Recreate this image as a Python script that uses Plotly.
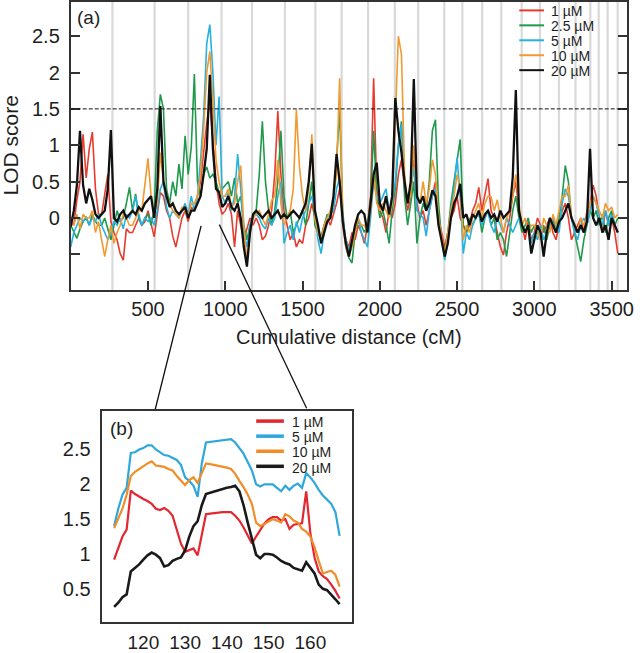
import plotly.graph_objects as go

W, H = 644, 653
FONT = "Liberation Sans, Arial, Helvetica, sans-serif"
TXT = "#1e1e1e"

# ---------------- Panel (a): genome-wide LOD scan ----------------
# LOD scores sampled every 20 cM along the cumulative map (0 ... 3540 cM)
MAP_STEP_CM = 20
lod_1uM = [
    -0.05, -0.1, 0.25, 0.5, 1.15, 0.55, 0.95, 1.18, 0.4, 0.05,
    0.05, 0.35, 0.6, -0.05, -0.2, -0.3, -0.49, -0.58, -0.15, -0.2,
    -0.2, -0.1, 0.0, -0.1, -0.05, 0.1, -0.1, -0.26, 0.05, 0.35,
    0.3, 0.1, 0.0, -0.25, -0.4, -0.2, 0.0, 0.1, -0.05, 0.15,
    0.1, 0.3, 0.5, 0.9, 1.3, 1.6, 1.0, 0.5, 0.2, 0.05,
    0.1, 0.2, 0.05, -0.4, 0.1, -0.1, -0.3, -0.15, 0.0, -0.1,
    0.0, -0.1, -0.3, -0.25, -0.1, 0.1, 0.6, 1.47, 0.6, 0.1,
    -0.1, -0.3, -0.2, -0.4, -0.3, -0.35, -0.1, 0.0, 0.2, 0.0,
    -0.2, -0.3, -0.1, 0.0, -0.1, 0.05, 0.2, 0.4, 0.0, -0.3,
    -0.4, -0.2, -0.3, -0.1, -0.2, -0.35, -0.1, 0.3, 1.92, 0.4,
    0.1, 0.0, -0.2, 0.1, 0.0, 0.2, 0.6, 0.8, 0.4, 0.1,
    0.3, 0.8, 0.2, 0.0, 0.1, -0.1, 0.1, 0.3, 0.5, 0.0,
    -0.2, -0.4, -0.2, 0.0, 0.1, 0.3, 0.0, -0.1, -0.2, -0.1,
    0.1, 0.2, 0.42, 0.1, 0.3, 0.54, 0.1, 0.0, -0.2, -0.4,
    -0.51, -0.2, 0.0, 0.3, 0.5, 0.1, -0.1, -0.3, -0.05, -0.3,
    -0.2, 0.0, -0.1, -0.2, -0.1, 0.0, -0.2, -0.3, -0.1, 0.1,
    0.2, 0.0, -0.3, -0.2, -0.1, 0.0, -0.2, 0.1, 0.2, 0.45,
    0.3, 0.0, -0.2, 0.1, -0.1, 0.0, -0.2, -0.49,
]
lod_2_5uM = [
    -0.1, -0.2, -0.28, -0.15, -0.05, 0.0, -0.1, 0.05, -0.05, -0.1,
    -0.1, 0.0, -0.15, -0.3, -0.1, 0.1, -0.05, 0.0, 0.2, 0.42,
    0.1, 0.33, 0.0, -0.1, 0.0, 0.05, -0.1, 0.1, 1.2, 1.7,
    1.5, 0.4, 0.2, 0.5, 0.3, 0.74, 0.4, 1.13, 0.6, 0.97,
    1.98, 0.5, 0.3, 0.6, 0.7, 0.55, 0.6, 0.5, 0.35, 0.4,
    0.45, 0.5, 0.3, 0.55, 0.2, 0.3, -0.1, -0.3, -0.1, 0.0,
    0.1, 0.6, 1.33, 0.5, 0.1, -0.1, 0.1, 0.5, 1.2, 0.3,
    0.0, 0.1, -0.2, -0.1, 0.0, 0.1, -0.1, 0.2, 0.5, -0.1,
    -0.2, -0.25, -0.1, 0.05, 0.0, 0.2, 0.8, 1.49, 0.1, -0.4,
    -0.55, -0.62, -0.2, -0.05, -0.1, -0.2, -0.1, 0.2, 1.2, 0.3,
    0.0, 0.1, -0.1, -0.35, 0.1, 0.4, 1.0, 1.33, 0.3, -0.1,
    0.2, 0.5, -0.35, 0.0, 0.2, 0.1, 0.5, 1.2, 1.35, 0.2,
    -0.3, -0.45, -0.2, 0.2, 0.5, 0.8, 1.08, -0.1, -0.2, 0.0,
    -0.1, 0.0, 0.1, -0.2, 0.0, 0.1, -0.1, 0.0, -0.3, -0.2,
    -0.3, -0.53, -0.2, 0.1, 0.3, 0.0, -0.2, -0.1, 0.0, -0.2,
    -0.1, -0.2, -0.3, -0.1, -0.3, -0.1, 0.0, -0.2, 0.0, 0.3,
    0.72, 0.5, 0.0, -0.2, -0.4, -0.6, -0.3, -0.1, 0.1, 0.0,
    0.1, -0.1, 0.05, -0.2, 0.0, 0.1, -0.1, 0.0,
]
lod_5uM = [
    -0.4, -0.2, -0.1, 0.0, -0.05, 0.02, -0.1, 0.0, -0.05, 0.05,
    -0.1, -0.2, -0.3, -0.2, -0.05, -0.1, 0.0, -0.15, 0.05, 0.0,
    0.1, 0.3, 0.05, -0.1, 0.0, -0.05, 0.0, -0.1, 0.1, 0.4,
    0.5, 0.15, 0.0, 0.1, 0.05, 0.0, 0.1, 0.2, 0.05, 0.3,
    0.1, 0.3, 0.8, 1.4, 2.4, 2.66, 2.0, 1.0, 1.67, 0.3,
    0.2, 0.35, 0.1, 0.3, 0.88, 0.4, -0.2, -0.4, -0.1, 0.05,
    0.05, 0.0, -0.1, -0.15, 0.0, -0.1, 0.0, 0.3, 0.5, -0.35,
    -0.2, -0.1, -0.3, -0.05, -0.2, 0.0, 0.1, 0.2, 0.3, 0.1,
    -0.3, -0.49, -0.2, 0.0, 0.05, 0.1, 0.4, 0.55, 0.0, -0.3,
    -0.45, -0.3, -0.1, 0.0, -0.2, -0.3, -0.4, 0.0, 0.5, 0.3,
    0.2, 0.3, 0.4, 0.1, 0.2, 0.5, 1.0, 1.29, 0.5, 0.2,
    0.4, 0.7, 0.1, 0.05, 0.0, -0.25, 0.1, 0.3, 0.4, -0.1,
    -0.3, -0.58, -0.3, 0.1, 0.4, 0.83, 0.3, -0.49, -0.2, -0.3,
    -0.1, 0.0, 0.05, -0.1, 0.0, 0.1, -0.1, -0.2, 0.0, -0.1,
    -0.2, 0.0, -0.1, -0.2, -0.1, 0.0, -0.1, -0.2, -0.1, -0.35,
    -0.2, -0.3, -0.1, -0.3, -0.2, -0.1, 0.0, -0.1, -0.2, 0.2,
    0.4, 0.3, 0.0, -0.2, -0.3, -0.1, 0.0, -0.1, 0.1, 0.3,
    0.2, 0.0, -0.1, 0.1, -0.1, 0.05, -0.1, -0.2,
]
lod_10uM = [
    -0.05, -0.1, 0.05, -0.15, 0.05, 0.0, 0.0, 0.1, -0.2, -0.05,
    -0.3, -0.53, -0.3, -0.1, -0.35, -0.2, -0.1, 0.05, 0.0, -0.1,
    -0.1, 0.0, 0.1, 0.1, 0.5, 0.82, 0.3, 0.05, 0.2, 0.9,
    0.5, 0.3, 0.2, 0.1, 0.05, 0.0, 0.15, 0.1, 0.0, 0.2,
    0.2, 0.3, 0.6, 1.2, 2.0, 2.29, 1.6, 0.8, 0.5, 0.3,
    0.3, 0.4, 0.15, 0.2, 0.5, 0.72, -0.1, -0.6, -0.2, 0.0,
    0.05, 0.1, 0.0, -0.1, 0.05, 0.24, 0.3, 0.8, 0.2, -0.1,
    0.0, 0.1, 0.4, 1.49, 0.7, 0.3, 0.1, 0.4, 1.15, 0.0,
    -0.2, -0.3, -0.1, 0.0, 0.1, 0.3, 0.6, 1.92, -0.1, -0.4,
    -0.53, -0.4, -0.2, 0.0, -0.1, -0.1, -0.2, 0.1, 0.6, 0.2,
    0.1, 0.2, 0.1, 0.0, 0.2, 1.3, 2.5, 2.25, 0.6, 0.2,
    0.3, 1.0, 0.3, 0.2, 0.5, 0.2, 0.4, 0.8, 0.6, 0.0,
    -0.25, -0.5, -0.2, 0.1, 0.3, 0.6, 0.4, -0.3, -0.1, -0.2,
    0.0, 0.1, 0.2, 0.0, 0.2, 0.3, 0.29, 0.1, 0.25, 0.0,
    -0.2, 0.0, 0.1, 0.3, 0.6, 0.2, -0.1, 0.0, -0.2, -0.1,
    -0.1, -0.2, -0.3, 0.0, -0.1, -0.2, 0.05, -0.1, 0.1, 0.3,
    0.3, 0.45, 0.0, -0.1, -0.2, 0.0, -0.1, 0.0, 0.2, 0.3,
    0.2, 0.1, 0.0, 0.2, 0.1, 0.15, 0.0, 0.05,
]
lod_20uM = [
    -0.12, 0.1, 0.45, 1.2, 0.45, 0.2, 0.4, 0.25, 0.05, 0.0,
    0.05, 0.1, 0.4, 1.21, 0.0, -0.05, 0.05, 0.1, 0.0, 0.05,
    0.1, 0.05, 0.15, 0.1, 0.2, 0.25, 0.3, 0.0, 0.4, 1.54,
    0.5, 0.3, 0.15, 0.2, 0.1, 0.05, 0.1, 0.15, 0.0, 0.1,
    0.1, 0.2, 0.3, 0.6, 0.95, 1.97, 0.95, 0.4, 0.35, 0.15,
    0.2, 0.3, 0.15, 0.1, 0.2, 0.0, -0.4, -0.67, -0.2, 0.05,
    0.1, 0.05, 0.0, 0.05, 0.1, 0.0, 0.05, 0.1, 0.0, 0.05,
    0.0, 0.05, 0.1, 0.05, 0.0, 0.1, 0.2, 0.5, 1.02, 0.1,
    -0.1, -0.35, -0.2, -0.05, 0.0, 0.3, 0.88, 0.5, -0.05, -0.35,
    -0.53, -0.3, -0.1, 0.05, 0.1, 0.05, -0.2, 0.2, 0.6, 0.76,
    0.2, 0.1, 0.3, 0.05, 0.3, 1.65, 1.2, 0.9, 0.5, 0.2,
    0.5, 1.91, 0.3, 0.2, 0.3, 0.1, 0.2, 0.38, 0.3, -0.1,
    -0.3, -0.53, -0.35, 0.0, 0.2, 0.3, 0.47, 0.0, 0.05, -0.1,
    0.05, 0.0, 0.1, -0.05, 0.05, 0.1, 0.0, 0.05, -0.05, 0.1,
    0.0, 0.05, 0.1, 0.56, 1.76, 0.1, -0.1, -0.2, -0.1, -0.49,
    -0.3, -0.1, -0.2, -0.53, -0.2, 0.0, -0.1, -0.2, -0.05, 0.0,
    0.1, 0.2, 0.0, -0.1, -0.2, -0.1, -0.2, -0.05, 0.95, 0.0,
    -0.1, 0.0, -0.2, -0.1, -0.3, 0.0, -0.1, -0.2,
]
series_a_names = ["1 µM", "2.5 µM", "5 µM", "10 µM", "20 µM"]
series_a_values = [lod_1uM, lod_2_5uM, lod_5uM, lod_10uM, lod_20uM]
series_a_colors = ["#e63b2e", "#1f9a4d", "#25b2e0", "#f29a30", "#111111"]
series_a_widths = [1.6, 1.6, 1.6, 1.6, 2.3]

chrom_boundaries_cM = [270, 543, 760, 976, 1173, 1386, 1583, 1753, 1924, 2097,
                       2248, 2417, 2534, 2662, 2786, 2918, 3036, 3159, 3266,
                       3362, 3416, 3474, 3539]
threshold_lod = 1.5
xa_ticks = [500, 1000, 1500, 2000, 2500, 3000, 3500]
ya_ticks = [-0.5, 0, 0.5, 1, 1.5, 2, 2.5]
ya_ticktext = ["", "0", "0.5", "1", "1.5", "2", "2.5"]

# ---------------- Panel (b): zoom on the main peak ----------------
pos_b = list(range(113, 168))
b_1uM = [0.92, 1.1, 1.25, 1.35, 1.91, 1.86, 1.82, 1.79, 1.76, 1.72,
         1.65, 1.63, 1.66, 1.62, 1.55, 1.35, 1.15, 1.03, 1.05, 1.08,
         0.98, 1.3, 1.57, 1.58, 1.59, 1.59, 1.6, 1.6, 1.6, 1.55,
         1.48, 1.38, 1.27, 1.15, 1.25, 1.35, 1.44, 1.5, 1.53, 1.53,
         1.48, 1.5, 1.36, 1.42, 1.43, 1.44, 1.9, 1.3, 0.95, 0.75,
         0.68, 0.64, 0.56, 0.47, 0.36]
b_5uM = [1.4, 1.65, 1.85, 1.95, 2.45, 2.46, 2.5, 2.52, 2.56, 2.56,
         2.5, 2.46, 2.42, 2.41, 2.38, 2.35, 2.28, 2.1, 2.05, 1.98,
         1.82, 2.3, 2.6, 2.61, 2.62, 2.63, 2.63, 2.64, 2.65, 2.6,
         2.52, 2.44, 2.32, 2.2, 2.0, 1.97, 2.0, 2.0, 2.0, 1.95,
         1.9, 1.98, 1.92, 1.98, 2.01, 1.95, 2.16, 2.1, 2.02, 1.92,
         1.84, 1.78, 1.72, 1.6, 1.26]
b_10uM = [1.37, 1.5, 1.65, 1.85, 2.12, 2.18, 2.22, 2.27, 2.3, 2.33,
          2.27, 2.26, 2.25, 2.22, 2.2, 2.12, 2.05, 1.99, 2.06, 2.1,
          2.02, 2.15, 2.3, 2.29, 2.28, 2.27, 2.25, 2.24, 2.22, 2.15,
          2.05, 1.96, 1.85, 1.72, 1.45, 1.4, 1.43, 1.47, 1.5, 1.48,
          1.45, 1.57, 1.54, 1.48, 1.45, 1.36, 1.32, 1.25, 1.1, 0.9,
          0.72, 0.74, 0.76, 0.7, 0.53]
b_20uM = [0.24, 0.3, 0.38, 0.42, 0.75, 0.8, 0.85, 0.92, 0.98, 1.02,
          0.99, 0.94, 0.82, 0.84, 0.9, 0.93, 0.95, 1.05, 1.25, 1.4,
          1.47, 1.7, 1.86, 1.88, 1.9, 1.91, 1.93, 1.95, 1.96, 1.98,
          1.9, 1.7, 1.45, 1.2, 0.99, 0.94, 1.0, 1.0, 0.99, 0.95,
          0.9, 0.87, 0.85, 0.8, 0.78, 0.76, 0.88, 0.8, 0.72, 0.56,
          0.5, 0.48, 0.42, 0.35, 0.28]
series_b_names = ["1 µM", "5 µM", "10 µM", "20 µM"]
series_b_values = [b_1uM, b_5uM, b_10uM, b_20uM]
series_b_colors = ["#e3262f", "#2ea7dc", "#f28c28", "#1a1a1a"]
series_b_widths = [2.2, 2.2, 2.2, 2.6]
xb_ticks = [120, 130, 140, 150, 160]
yb_ticks = [0.5, 1, 1.5, 2, 2.5]
yb_ticktext = ["0.5", "1", "1.5", "2", "2.5"]


def px(x):
    return x / W


def py(y):
    return 1 - y / H


fig = go.Figure()

map_pos = [i * MAP_STEP_CM for i in range(len(lod_1uM))]
for name, vals, col, lw in zip(series_a_names, series_a_values,
                               series_a_colors, series_a_widths):
    fig.add_trace(go.Scatter(x=map_pos[:len(vals)], y=vals, mode="lines",
                             name=name, line=dict(color=col, width=lw),
                             xaxis="x", yaxis="y", showlegend=False))

for name, vals, col, lw in zip(series_b_names, series_b_values,
                               series_b_colors, series_b_widths):
    fig.add_trace(go.Scatter(x=pos_b, y=vals, mode="lines", name=name,
                             line=dict(color=col, width=lw),
                             xaxis="x2", yaxis="y2", showlegend=False))

shapes = []
for b in chrom_boundaries_cM:
    shapes.append(dict(type="line", xref="x", yref="y domain", x0=b, x1=b,
                       y0=0, y1=1, line=dict(color="#d9d9d9", width=2.2),
                       layer="below"))
shapes.append(dict(type="line", xref="x domain", yref="y", x0=0, x1=1,
                   y0=threshold_lod, y1=threshold_lod,
                   line=dict(color="#111111", width=1, dash="4px,2px")))
# connector lines from panel (a) to panel (b)
shapes.append(dict(type="line", xref="paper", yref="paper",
                   x0=px(203.3), y0=py(228), x1=px(157), y1=py(413),
                   line=dict(color="#111111", width=1.3)))
shapes.append(dict(type="line", xref="paper", yref="paper",
                   x0=px(221.7), y0=py(226.7), x1=px(310), y1=py(412),
                   line=dict(color="#111111", width=1.3)))


def legend_block(names, size_px):
    # line spacing follows the base font (1.3 em); glyphs are drawn at size_px
    return "<br>".join(
        f'<span style="font-size:{size_px}px">{n}</span>' for n in names)


annotations = []
# legend (a)
LEG_A_BASE, LEG_A_SIZE = 11.6, 14
leg_a_step = 1.3 * LEG_A_BASE
leg_a_top = 10.5
for i, col in enumerate(series_a_colors):
    yy = leg_a_top + leg_a_step * i
    shapes.append(dict(type="line", xref="paper", yref="paper",
                       x0=px(525), x1=px(550), y0=py(yy), y1=py(yy),
                       line=dict(color=col, width=2)))
leg_a_mid = leg_a_top + leg_a_step * (len(series_a_names) - 1) / 2
annotations.append(dict(x=px(556), y=py(leg_a_mid + 1), xref="paper",
                        yref="paper",
                        text=legend_block(series_a_names, LEG_A_SIZE),
                        showarrow=False, xanchor="left", yanchor="middle",
                        align="left", borderpad=0,
                        font=dict(size=LEG_A_BASE, color=TXT, family=FONT)))
# legend (b)
LEG_B_BASE, LEG_B_SIZE = 11.7, 14
leg_b_step = 1.3 * LEG_B_BASE
leg_b_top = 425
for i, col in enumerate(series_b_colors):
    yy = leg_b_top + leg_b_step * i
    shapes.append(dict(type="line", xref="paper", yref="paper",
                       x0=px(259), x1=px(287), y0=py(yy), y1=py(yy),
                       line=dict(color=col, width=3.5)))
leg_b_mid = leg_b_top + leg_b_step * (len(series_b_names) - 1) / 2
annotations.append(dict(x=px(294), y=py(leg_b_mid + 1), xref="paper",
                        yref="paper",
                        text=legend_block(series_b_names, LEG_B_SIZE),
                        showarrow=False, xanchor="left", yanchor="middle",
                        align="left", borderpad=0,
                        font=dict(size=LEG_B_BASE, color=TXT, family=FONT)))

annotations += [
    dict(x=px(76), y=py(18), xref="paper", yref="paper", text="(a)",
         showarrow=False, xanchor="left", yanchor="middle",
         font=dict(size=19, color=TXT, family=FONT)),
    dict(x=px(109), y=py(432), xref="paper", yref="paper", text="(b)",
         showarrow=False, xanchor="left", yanchor="middle",
         font=dict(size=19, color=TXT, family=FONT)),
    dict(x=px(11), y=py(147), xref="paper", yref="paper", text="LOD score",
         showarrow=False, textangle=-90, xanchor="center", yanchor="middle",
         font=dict(size=21, color=TXT, family=FONT)),
    dict(x=px(352.7), y=py(340), xref="paper", yref="paper",
         text="Cumulative distance (cM)", showarrow=False,
         xanchor="center", yanchor="middle",
         font=dict(size=20, color=TXT, family=FONT)),
]

axis_line = dict(showline=True, linecolor="#333333", linewidth=1.8,
                 showgrid=False, zeroline=False)
tickfont = dict(size=20, color=TXT, family=FONT)

fig.update_layout(
    width=W, height=H, margin=dict(l=0, r=0, t=0, b=0),
    paper_bgcolor="white", plot_bgcolor="white",
    showlegend=False, shapes=shapes, annotations=annotations,
    xaxis=dict(domain=[px(71.5), px(634)], range=[0, 3600], anchor="y",
               tickmode="array", tickvals=xa_ticks, ticks="inside",
               ticklen=9, tickwidth=1.5, tickcolor="#333333", mirror=True,
               tickfont=tickfont, ticklabelstandoff=0, **axis_line),
    yaxis=dict(domain=[py(293), py(2)], range=[-0.995, 2.97], anchor="x",
               tickmode="array", tickvals=ya_ticks, ticktext=ya_ticktext,
               ticks="inside", ticklen=9, tickwidth=1.5, tickcolor="#333333",
               mirror="ticks", tickfont=tickfont, ticklabelstandoff=5,
               **axis_line),
    xaxis2=dict(domain=[px(102.7), px(356)], range=[110, 170], anchor="y2",
                tickmode="array", tickvals=xb_ticks, ticks="", mirror=True,
                tickfont=dict(size=19, color=TXT, family=FONT),
                ticklabelstandoff=2, **axis_line),
    yaxis2=dict(domain=[py(628), py(415)], range=[0.02, 3.05], anchor="x2",
                tickmode="array", tickvals=yb_ticks, ticktext=yb_ticktext,
                ticks="", mirror=True, tickfont=tickfont,
                ticklabelstandoff=5, **axis_line),
)

# remove the default 8px page margin so the figure fills the window exactly
fig.write_html("out.html", config={"displayModeBar": False},
               post_script="document.body.style.margin='0px';")
